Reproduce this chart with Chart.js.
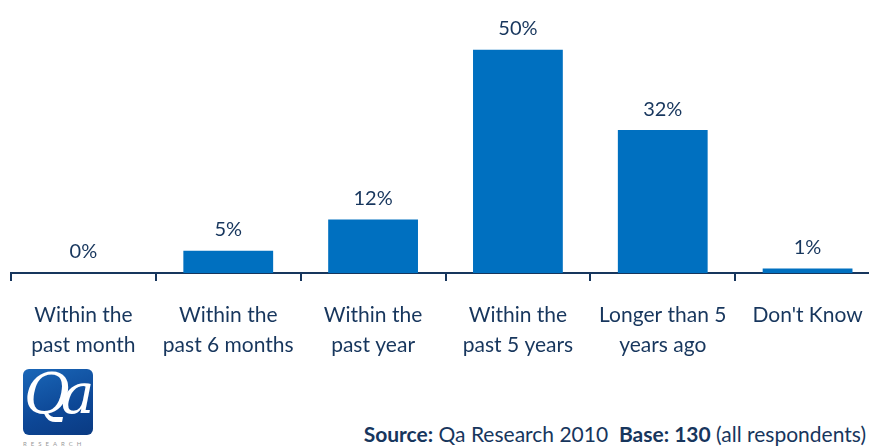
<!DOCTYPE html>
<html>
<head>
<meta charset="utf-8">
<script src="https://cdn.jsdelivr.net/npm/chart.js@4/dist/chart.umd.min.js"></script>
<style>
  html, body { margin: 0; padding: 0; background: #fff; overflow: hidden; width: 869px; height: 447px; }
  #wrap { position: absolute; left: 0; top: 0; width: 900px; height: 360px; }
  .logo {
    position: absolute; left: 23px; top: 369px; width: 70px; height: 66px;
    border-radius: 6px;
    background: linear-gradient(160deg, #1a67b8 0%, #0d4796 60%, #0a3a82 100%);
    overflow: hidden;
  }
  .logo span {
    position: absolute; left: 1px; top: -8px;
    font-family: "DejaVu Serif", "Liberation Serif", serif; font-style: italic;
    font-size: 56px; color: #fff; letter-spacing: -9px;
  }
  .logo-sub {
    position: absolute; left: 23px; top: 440px; font-family: Lato, sans-serif;
    font-size: 6px; letter-spacing: 4px; color: #999;
  }
  .source {
    position: absolute; right: 3px; top: 421px; font-family: Lato, sans-serif;
    font-size: 21px; color: #17365d; white-space: nowrap;
  }
  .source b { font-weight: 700; }
</style>
</head>
<body>
<div id="wrap"><canvas id="chart" width="900" height="360"></canvas></div>
<div class="logo"><span>Qa</span></div>
<div class="logo-sub">RESEARCH</div>
<div class="source"><b>Source:</b> Qa Research 2010&nbsp;&nbsp;<b>Base: 130</b> (all respondents)</div>
<script>
const categories = [
    ['Within the', 'past month'],
    ['Within the', 'past 6 months'],
    ['Within the', 'past year'],
    ['Within the', 'past 5 years'],
    ['Longer than 5', 'years ago'],
    ["Don't Know"]
];
const values = [0, 5, 12, 50, 32, 1];

const navy = '#17365d';
const barBlue = '#0070c0';

// percent labels above each bar
const valueLabels = {
    id: 'valueLabels',
    afterDatasetsDraw(chart) {
        const ctx = chart.ctx;
        const meta = chart.getDatasetMeta(0);
        ctx.save();
        ctx.font = '20px Lato, sans-serif';
        ctx.fillStyle = navy;
        ctx.textAlign = 'center';
        ctx.textBaseline = 'bottom';
        meta.data.forEach((bar, i) => {
            ctx.fillText(values[i] + '%', bar.x, bar.y - 11);
        });
        ctx.restore();
    }
};

new Chart(document.getElementById('chart'), {
    type: 'bar',
    data: {
        labels: categories,
        datasets: [{
            data: values,
            backgroundColor: barBlue,
            borderWidth: 0,
            barPercentage: 0.62,
            categoryPercentage: 1
        }]
    },
    options: {
        responsive: false,
        animation: false,
        layout: { padding: { left: 11, right: 20, top: 5, bottom: 0 } },
        plugins: { legend: { display: false }, tooltip: { enabled: false } },
        scales: {
            x: {
                offset: true,
                grid: {
                    offset: true,
                    drawOnChartArea: false,
                    drawTicks: true,
                    tickLength: 8,
                    color: navy,
                    lineWidth: 2
                },
                border: { display: true, color: navy, width: 2 },
                ticks: {
                    color: navy,
                    font: { family: 'Lato, sans-serif', size: 21, lineHeight: 1.45 },
                    padding: 19,
                    maxRotation: 0,
                    autoSkip: false
                },
                afterFit(scale) { scale.height = 87; }
            },
            y: {
                display: false,
                min: 0,
                max: 60
            }
        }
    },
    plugins: [valueLabels]
});
</script>
</body>
</html>
